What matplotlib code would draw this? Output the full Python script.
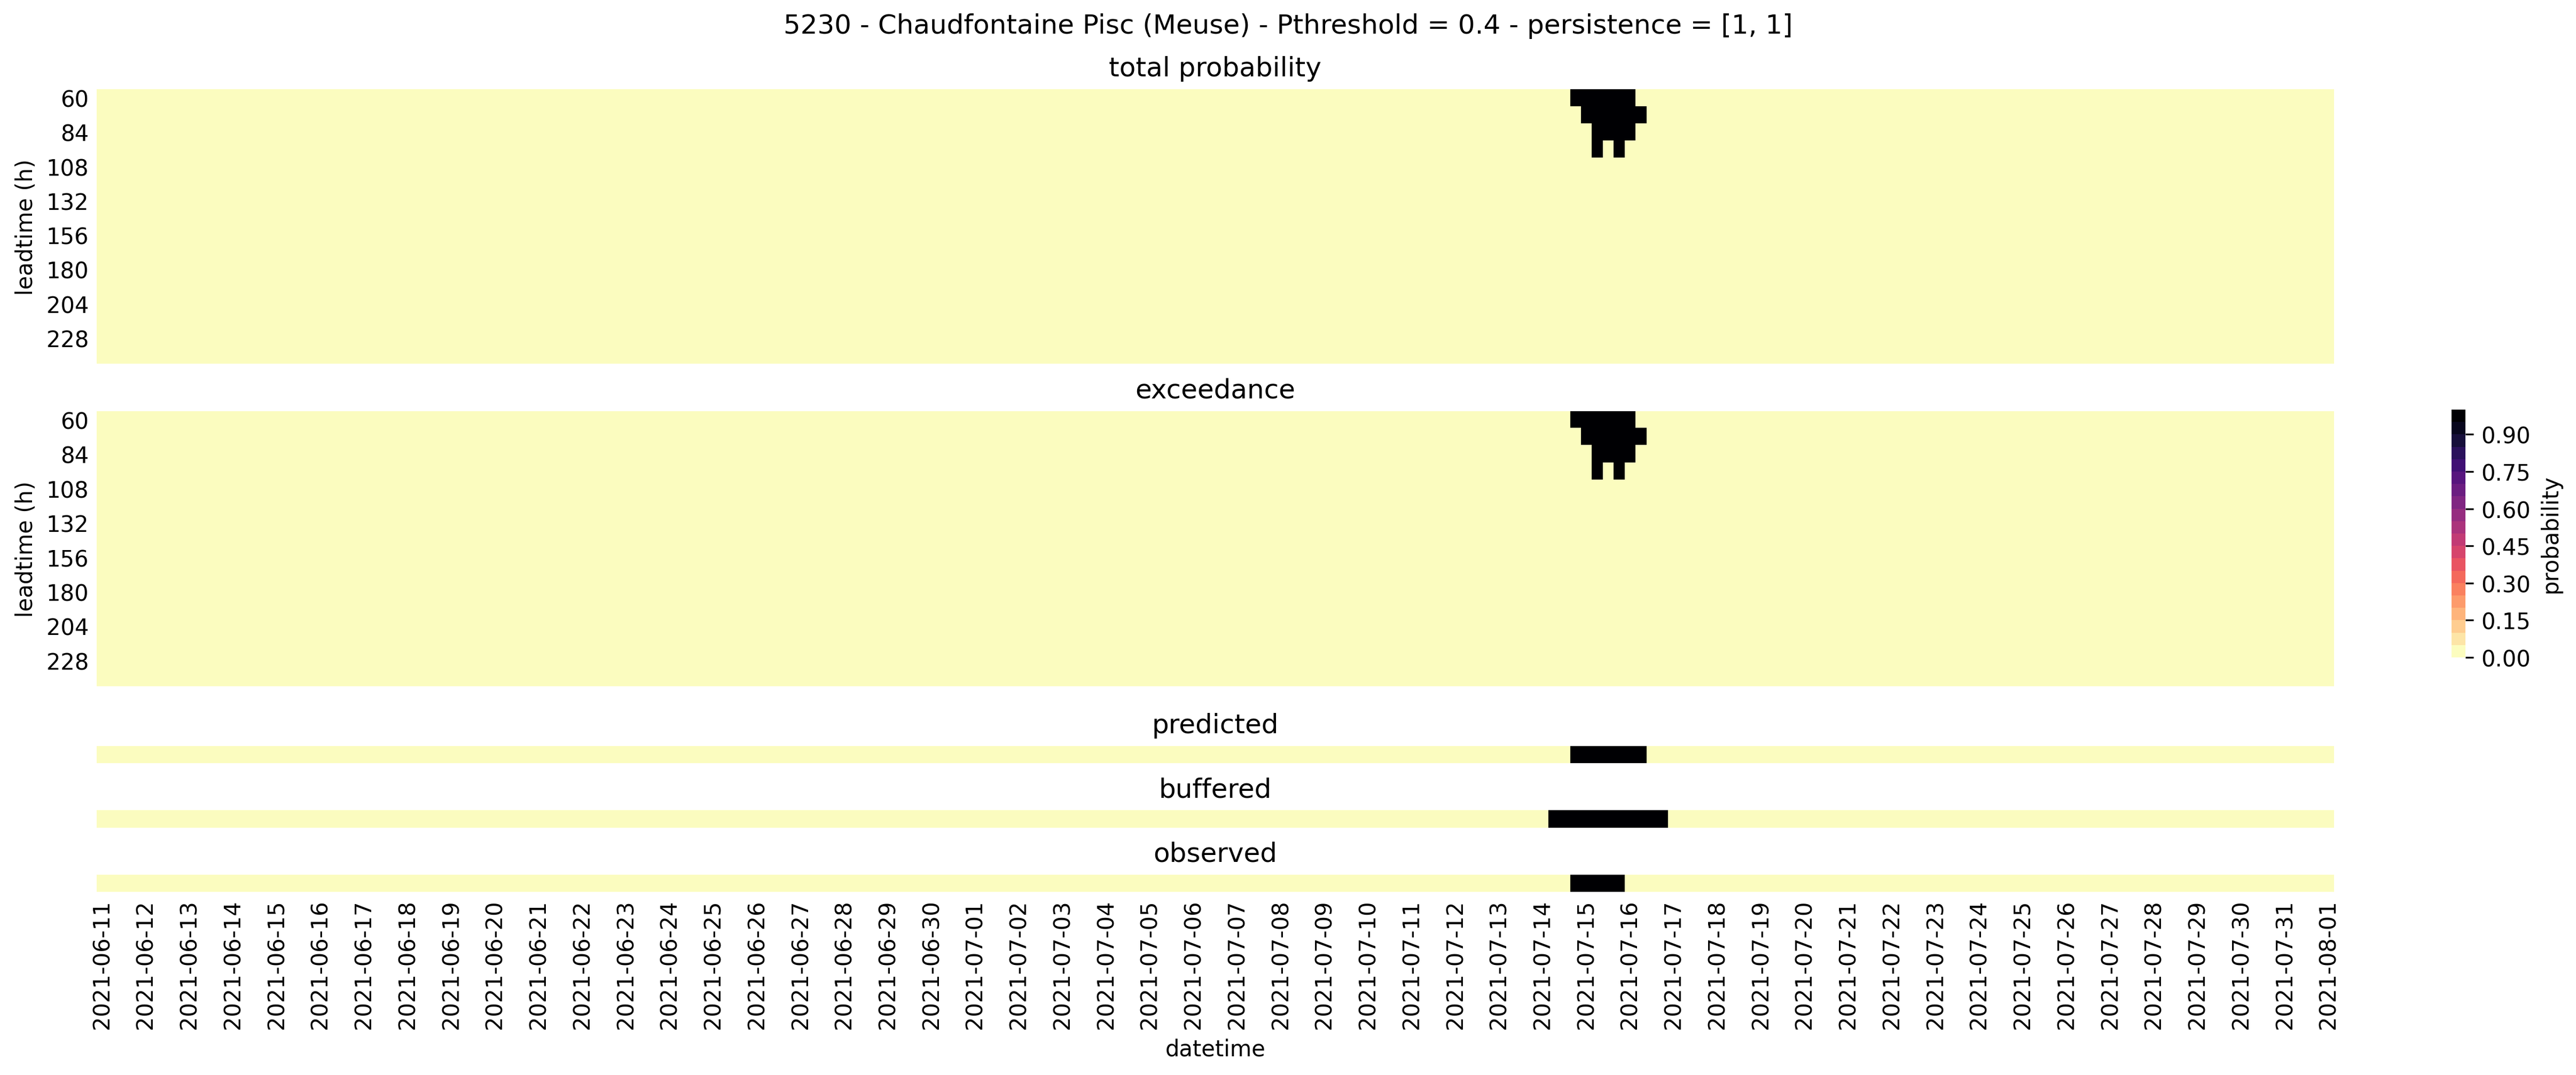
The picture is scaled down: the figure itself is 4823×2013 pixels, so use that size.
import numpy as np
import pandas as pd
import matplotlib
matplotlib.use("Agg")
import matplotlib.pyplot as plt
import matplotlib.colors as mcolors

# --- data ---
station = "5230 - Chaudfontaine Pisc (Meuse)"
p_threshold = 0.4
persistence = [1, 1]

dates = pd.date_range("2021-06-11 00:00", "2021-08-01 00:00", freq="6h")
leadtimes = np.arange(60, 241, 12)

# (leadtime, valid time, probability) -- every other cell is 0
total_prob_cells = [
    (60, "2021-07-14 18:00", 1.0), (60, "2021-07-15 00:00", 1.0),
    (60, "2021-07-15 06:00", 1.0), (60, "2021-07-15 12:00", 1.0),
    (60, "2021-07-15 18:00", 1.0), (60, "2021-07-16 00:00", 1.0),
    (72, "2021-07-15 00:00", 1.0), (72, "2021-07-15 06:00", 1.0),
    (72, "2021-07-15 12:00", 1.0), (72, "2021-07-15 18:00", 1.0),
    (72, "2021-07-16 00:00", 1.0), (72, "2021-07-16 06:00", 1.0),
    (84, "2021-07-15 06:00", 1.0), (84, "2021-07-15 12:00", 1.0),
    (84, "2021-07-15 18:00", 1.0), (84, "2021-07-16 00:00", 1.0),
    (96, "2021-07-15 06:00", 1.0), (96, "2021-07-15 18:00", 1.0),
]

predicted_times = ["2021-07-14 18:00", "2021-07-15 00:00", "2021-07-15 06:00",
                   "2021-07-15 12:00", "2021-07-15 18:00", "2021-07-16 00:00",
                   "2021-07-16 06:00"]
buffered_times = ["2021-07-14 06:00", "2021-07-14 12:00", "2021-07-14 18:00",
                  "2021-07-15 00:00", "2021-07-15 06:00", "2021-07-15 12:00",
                  "2021-07-15 18:00", "2021-07-16 00:00", "2021-07-16 06:00",
                  "2021-07-16 12:00", "2021-07-16 18:00"]
observed_times = ["2021-07-14 18:00", "2021-07-15 00:00", "2021-07-15 06:00",
                  "2021-07-15 12:00", "2021-07-15 18:00"]

# --- build the tables ---
total = pd.DataFrame(0.0, index=leadtimes, columns=dates)
for lt, t, p in total_prob_cells:
    total.loc[lt, pd.Timestamp(t)] = p
exceed = (total >= p_threshold).astype(float)


def row_series(times):
    s = pd.Series(0.0, index=dates)
    s.loc[pd.to_datetime(times)] = 1.0
    return s.to_frame().T


predicted = row_series(predicted_times)
buffered = row_series(buffered_times)
observed = row_series(observed_times)

# --- plot ---
plt.rcParams.update({"font.size": 10})
W, H = 4824, 2014
fig = plt.figure(figsize=(W / 300, H / 300), dpi=300)

cmap = plt.get_cmap("magma_r")
bounds = np.linspace(0, 1, 21)
norm = mcolors.BoundaryNorm(bounds, cmap.N)

x0, x1 = 181 / W, 4370 / W


def add_ax(top_px, bot_px):
    return fig.add_axes([x0, 1 - bot_px / H, x1 - x0, (bot_px - top_px) / H])


def draw(ax, df, title):
    im = ax.imshow(df.values, aspect="auto", cmap=cmap, norm=norm,
                   interpolation="nearest")
    ax.set_title(title)
    for sp in ax.spines.values():
        sp.set_visible(False)
    ax.tick_params(length=0)
    ax.set_xticks([])
    ax.set_yticks([])
    return im


ax1 = add_ax(168, 682)
im = draw(ax1, total, "total probability")
ax2 = add_ax(771, 1286)
draw(ax2, exceed, "exceedance")
for ax in (ax1, ax2):
    ax.set_yticks(np.arange(0, len(leadtimes), 2))
    ax.set_yticklabels(leadtimes[::2])
    ax.set_ylabel("leadtime (h)")

ax3 = add_ax(1398, 1430)
draw(ax3, predicted, "predicted")
ax4 = add_ax(1518, 1551)
draw(ax4, buffered, "buffered")
ax5 = add_ax(1639, 1671)
draw(ax5, observed, "observed")

xt = np.arange(0, len(dates), 4)
ax5.set_xticks(xt)
ax5.set_xticklabels([d.strftime("%Y-%m-%d") for d in dates[xt]], rotation=90)
ax5.set_xlabel("datetime")

cax = fig.add_axes([4590 / W, 1 - 1232 / H, 26 / W, 464 / H])
cb = fig.colorbar(im, cax=cax)
cb.outline.set_visible(False)
cb.set_ticks(np.arange(0, 0.91, 0.15))
cb.set_ticklabels([f"{v:.2f}" for v in np.arange(0, 0.91, 0.15)])
cb.ax.minorticks_off()
cb.set_label("probability")

fig.suptitle(f"{station} - Pthreshold = {p_threshold} - persistence = {persistence}",
             y=1 - 49 / H, va="center")

fig.savefig("out.png", dpi=300)
